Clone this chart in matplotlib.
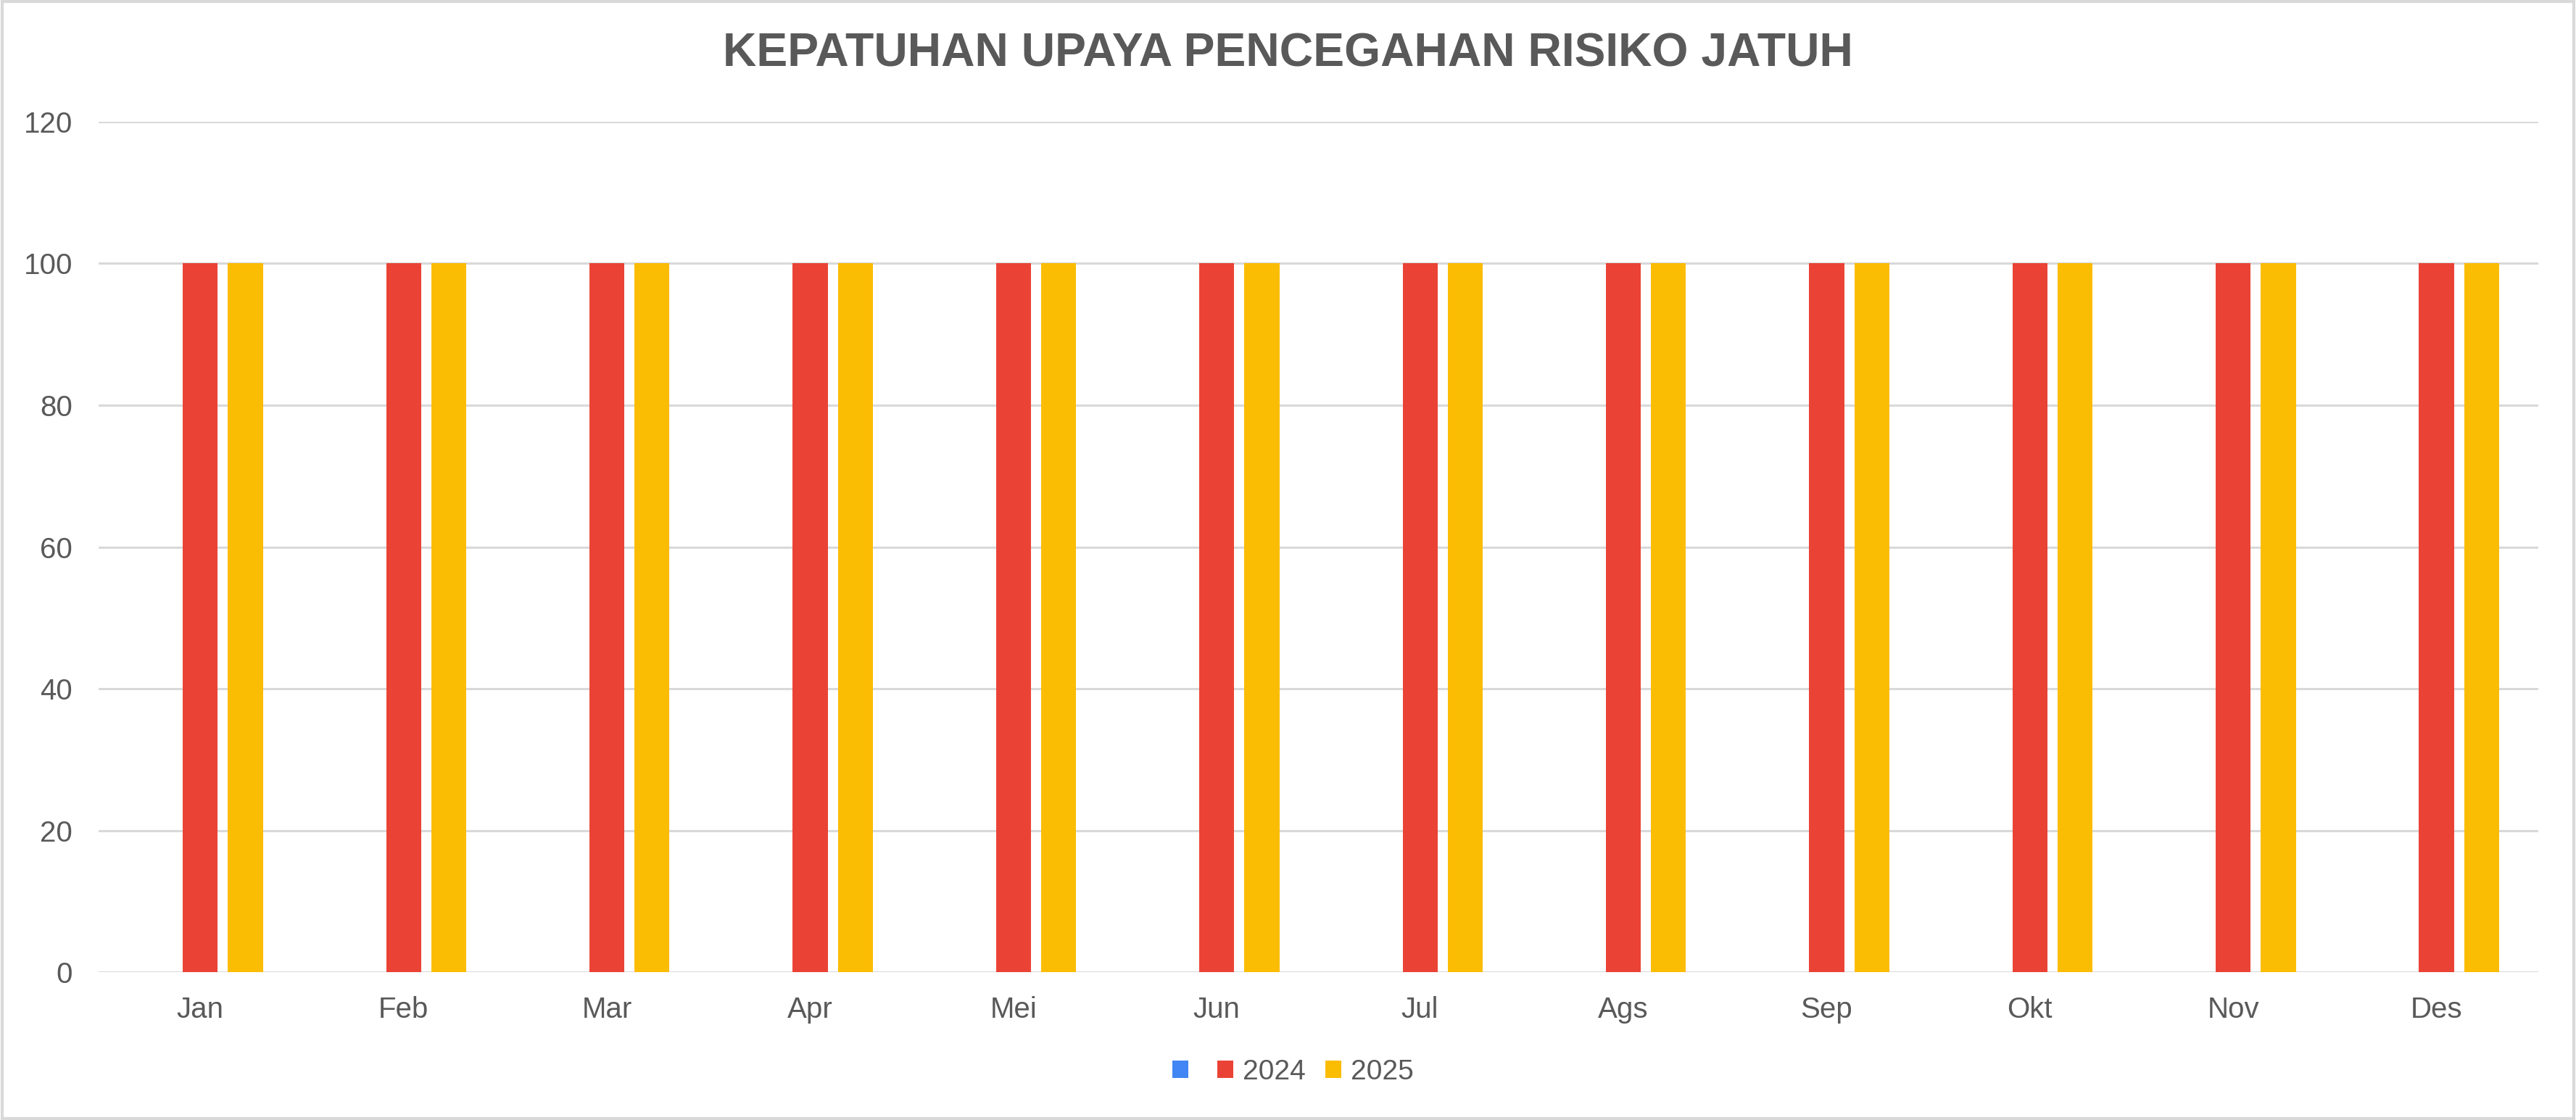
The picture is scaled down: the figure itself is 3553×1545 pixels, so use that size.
import matplotlib.pyplot as plt
from matplotlib.patches import Patch, Rectangle
import numpy as np

plt.rcParams['font.family'] = ['Liberation Sans', 'DejaVu Sans']

# data
bulan = ['Jan', 'Feb', 'Mar', 'Apr', 'Mei', 'Jun', 'Jul', 'Ags', 'Sep', 'Okt', 'Nov', 'Des']
seri_kosong = [0] * 12
nilai_2024 = [100, 100, 100, 100, 100, 100, 100, 100, 100, 100, 100, 100]
nilai_2025 = [100, 100, 100, 100, 100, 100, 100, 100, 100, 100, 100, 100]
label_seri = ['', '2024', '2025']
yticks = [0, 20, 40, 60, 80, 100, 120]

warna = ['#4285F4', '#EA4335', '#FBBC04']
abu = '#595959'

fig = plt.figure(figsize=(35.53, 15.45), dpi=100)
ax = fig.add_axes([0.0383, 0.132, 0.9470, 0.7593])

x = np.arange(len(bulan))
lebar = 0.172
jarak = 0.222
for i, data in enumerate([seri_kosong, nilai_2024, nilai_2025]):
    ax.bar(x + (i - 1) * jarak, data, width=lebar, color=warna[i], zorder=3)

ax.set_xlim(-0.5, len(bulan) - 0.5)
ax.set_ylim(0, 120)
ax.set_yticks(yticks)
ax.set_xticks(x)
ax.set_xticklabels(bulan)
ax.grid(axis='y', color='#D9D9D9', linewidth=2.2, zorder=0)
for s in ax.spines.values():
    s.set_visible(False)
ax.tick_params(axis='both', length=0, labelsize=29, colors=abu)
ax.tick_params(axis='y', pad=26)
ax.tick_params(axis='x', pad=24)

fig.text(0.5, 0.9515, 'KEPATUHAN UPAYA PENCEGAHAN RISIKO JATUH', ha='center', va='center',
         fontsize=46.3, fontweight='bold', color=abu)

handles = [Patch(facecolor=w, edgecolor='none') for w in warna]
fig.legend(handles, label_seri, loc='center', bbox_to_anchor=(0.502, 0.043), ncol=3,
           frameon=False, fontsize=28, labelcolor=abu, handlelength=0.55, handleheight=0.6,
           handletextpad=0.35, columnspacing=0.7)

# bingkai luar
fig.patches.append(Rectangle((0.0008, 0.0015), 0.9984, 0.997, transform=fig.transFigure,
                             fill=False, edgecolor='#D9D9D9', linewidth=3))

fig.savefig('out.png', dpi=100, facecolor='white')
